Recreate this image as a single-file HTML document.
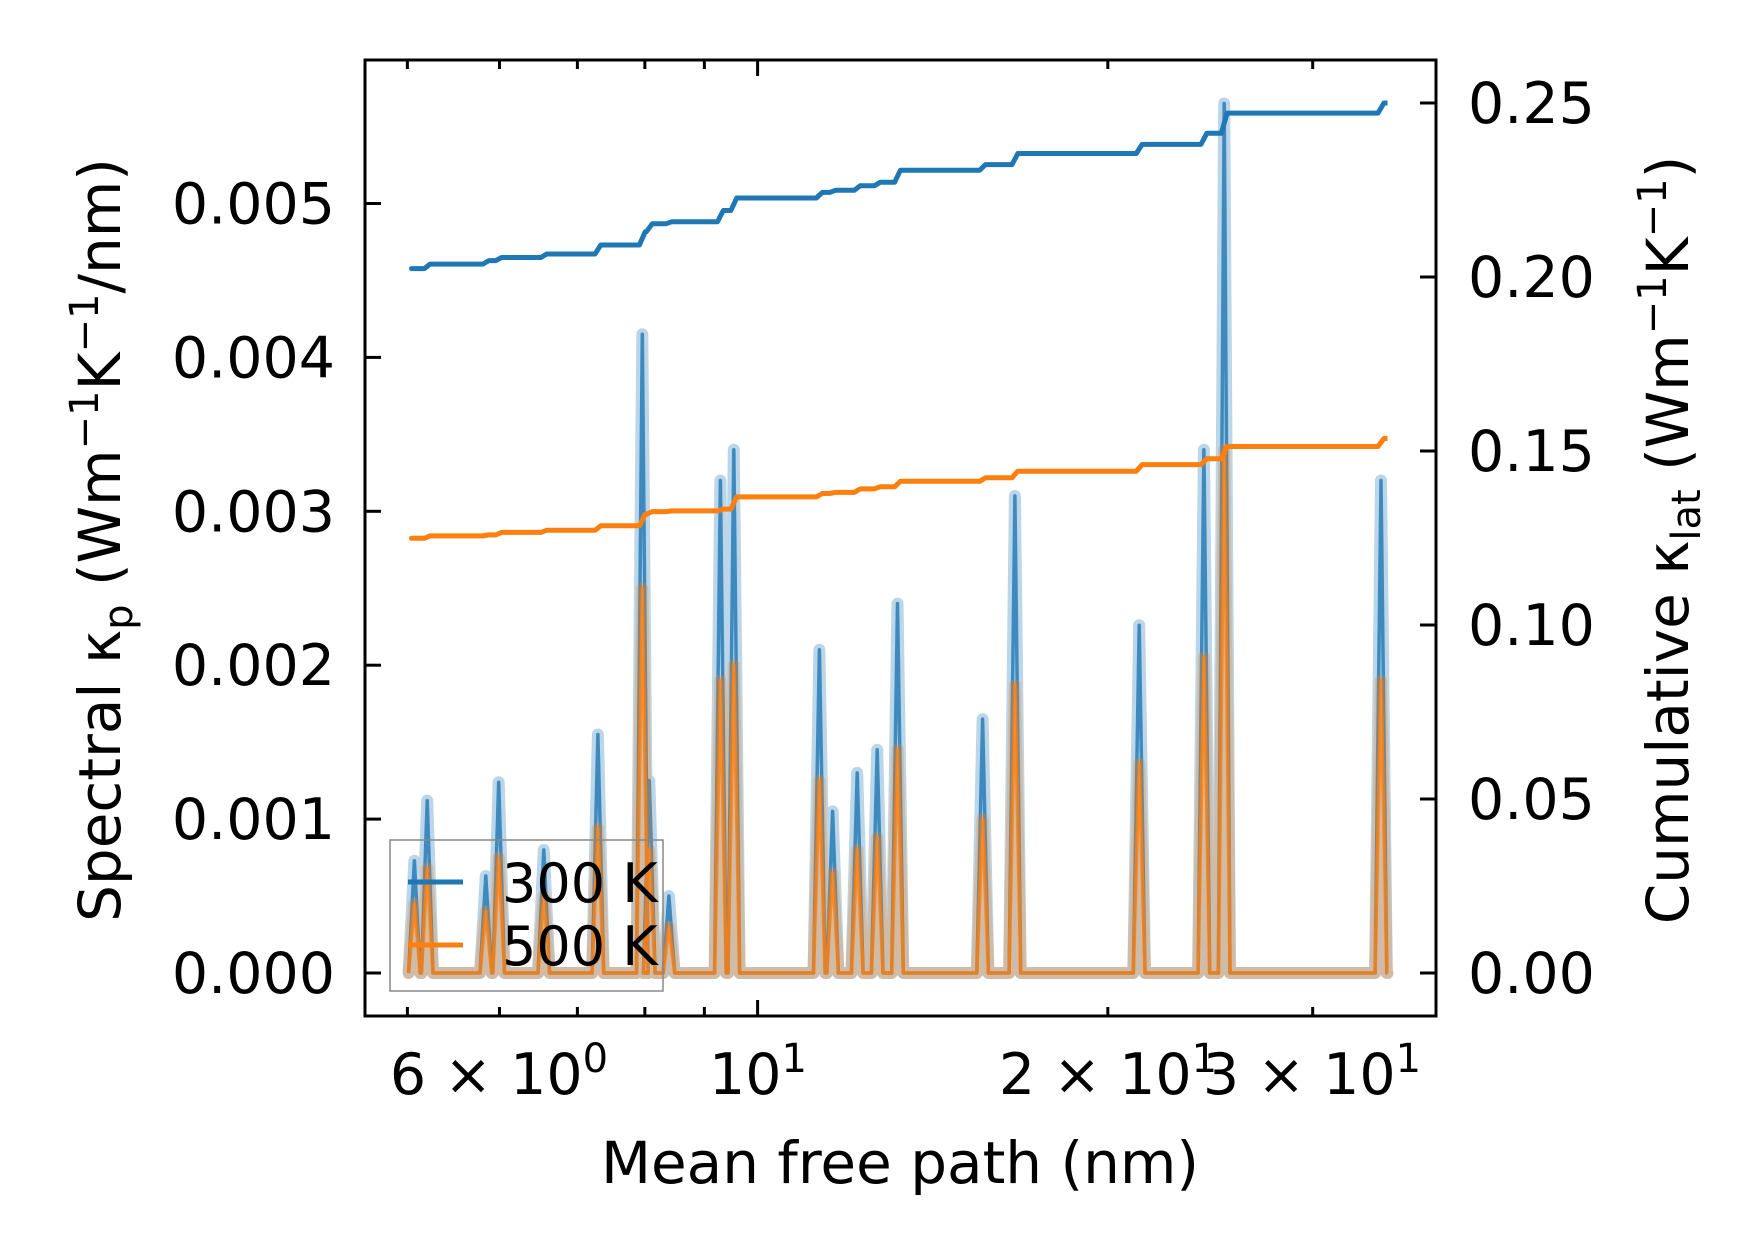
<!DOCTYPE html>
<html><head><meta charset="utf-8"><style>
html,body{margin:0;padding:0;background:#fff;}
svg{display:block;font-family:"DejaVu Sans","Liberation Sans",sans-serif;}
</style></head><body>
<svg id="chart" width="1753" height="1253" viewBox="0 0 1753 1253" xmlns="http://www.w3.org/2000/svg">
<g id="marks"></g>
<g id="axes"></g>
</svg>
<script>
const spikeMfp = [5.07,5.20,5.84,5.99,6.55,7.29,7.96,8.07,8.39,9.29,9.54,11.30,11.60,12.18,12.67,13.19,15.61,16.64,21.28,24.19,25.18,34.34];
const spec300 = [0.00073,0.00112,0.00063,0.00124,0.0008,0.00155,0.00415,0.00125,0.0005,0.0032,0.0034,0.0021,0.00105,0.0013,0.00145,0.0024,0.00165,0.0031,0.00226,0.0034,0.00565,0.0032];
const spec500 = [0.00045,0.00068,0.0004,0.00075,0.0005,0.00094,0.0025,0.0008,0.0003,0.0019,0.002,0.00125,0.00065,0.0008,0.00088,0.00145,0.001,0.00187,0.00136,0.00205,0.0034,0.0019];
const cum300 = [0.2024,0.2037,0.2047,0.2056,0.2066,0.2092,0.2130,0.2153,0.2159,0.2191,0.2227,0.2243,0.2249,0.2262,0.2272,0.2307,0.2323,0.2355,0.2381,0.2413,0.2471,0.2500];
const cum500 = [0.1249,0.1256,0.1259,0.1266,0.1272,0.1285,0.1318,0.1326,0.1328,0.1333,0.1368,0.1378,0.1381,0.1391,0.1397,0.1413,0.1423,0.1442,0.1461,0.1478,0.1513,0.1536];
const mfpEnd = 34.79;
const leftTicks = [0,0.001,0.002,0.003,0.004,0.005];
const leftTickLabels = ["0.000","0.001","0.002","0.003","0.004","0.005"];
const rightTicks = [0,0.05,0.10,0.15,0.20,0.25];
const rightTickLabels = ["0.00","0.05","0.10","0.15","0.20","0.25"];
const xMinor = [5,6,7,8,9,20,30];
const xMajor = [10];

const L=365,R=1436,T=60,B=1016;
const NS="http://www.w3.org/2000/svg";
function sx(v){return 757.6+1163.4*Math.log10(v/10);}
function syL(v){return 973-v*153.9e3;}
function syR(v){return 973-v*3480;}
function mk(tag,attrs,parent){const e=document.createElementNS(NS,tag);for(const k in attrs)e.setAttribute(k,attrs[k]);parent.appendChild(e);return e;}
const marks=document.getElementById('marks');
const axes=document.getElementById('axes');
const BLUE="#1f77b4",ORANGE="#ff7f0e";
const hw=0.005;

function specPts(vals){
  const pts=[];
  spikeMfp.forEach((m,i)=>{
    const lo=m*Math.pow(10,-hw),hi=m*Math.pow(10,hw);
    pts.push([sx(lo),syL(0)],[sx(m),syL(vals[i])],[sx(hi),syL(0)]);
  });
  pts.push([sx(mfpEnd),syL(0)]);
  return pts.map(p=>p[0].toFixed(1)+','+p[1].toFixed(1)).join(' ');
}
function cumPts(vals){
  const pts=[[sx(spikeMfp[0]),syR(vals[0])]];
  spikeMfp.forEach((m,i)=>{
    const prev=i?vals[i-1]:vals[0];
    pts.push([sx(m*Math.pow(10,-hw*0.5)),syR(prev)],[sx(m*Math.pow(10,hw*0.5)),syR(vals[i])]);
  });
  pts.push([sx(mfpEnd),syR(vals[vals.length-1])]);
  return pts.map(p=>p[0].toFixed(1)+','+p[1].toFixed(1)).join(' ');
}
[[spec300,BLUE,'spectral-300k'],[spec500,ORANGE,'spectral-500k']].forEach(([v,c,n])=>{
  const p=specPts(v);
  const halo=mk('polyline',{points:p,fill:'none',stroke:c,'stroke-width':12,'stroke-opacity':0.3,'stroke-linejoin':'round','stroke-linecap':'round'},marks);
  
  
  const ln=mk('polyline',{points:p,fill:'none',stroke:c,'stroke-width':3.5,'stroke-opacity':0.8,'stroke-linejoin':'round'},marks);
  
  
});
[[cum300,BLUE,'cumulative-300k'],[cum500,ORANGE,'cumulative-500k']].forEach(([v,c,n])=>{
  const ln=mk('polyline',{points:cumPts(v),fill:'none',stroke:c,'stroke-width':5,'stroke-linejoin':'round'},marks);
  
  
});

const fr=mk('rect',{x:L,y:T,width:R-L,height:B-T,fill:'none',stroke:'#000','stroke-width':3},axes);



leftTicks.forEach((v,i)=>{
  const y=syL(v);
  mk('line',{x1:L,x2:L+16,y1:y,y2:y,stroke:'#000','stroke-width':3},axes);
  const t=mk('text',{x:L-30,y:y+20,'font-size':57,'text-anchor':'end'},axes);
  t.textContent=leftTickLabels[i];
  
  
});
rightTicks.forEach((v,i)=>{
  const y=syR(v);
  mk('line',{x1:R-16,x2:R,y1:y,y2:y,stroke:'#000','stroke-width':3},axes);
  const t=mk('text',{x:R+32,y:y+20,'font-size':57,'text-anchor':'start'},axes);
  t.textContent=rightTickLabels[i];
  
  
});
xMinor.forEach(v=>{const x=sx(v);
  mk('line',{x1:x,x2:x,y1:B,y2:B-9,stroke:'#000','stroke-width':3},axes);
  mk('line',{x1:x,x2:x,y1:T,y2:T+9,stroke:'#000','stroke-width':3},axes);});
xMajor.forEach(v=>{const x=sx(v);
  mk('line',{x1:x,x2:x,y1:B,y2:B-16,stroke:'#000','stroke-width':3},axes);
  mk('line',{x1:x,x2:x,y1:T,y2:T+16,stroke:'#000','stroke-width':3},axes);});
</script>
<svg style="position:absolute;left:0;top:0" width="1753" height="1253" xmlns="http://www.w3.org/2000/svg" font-family="DejaVu Sans, Liberation Sans, sans-serif">
<g font-size="57" text-anchor="middle">
<text x="499" y="1094">6 × 10<tspan font-size="40" dy="-22">0</tspan></text>
<text x="758" y="1094">10<tspan font-size="40" dy="-22">1</tspan></text>
<text x="1108" y="1094">2 × 10<tspan font-size="40" dy="-22">1</tspan></text>
<text x="1312" y="1094">3 × 10<tspan font-size="40" dy="-22">1</tspan></text>
</g>
<text x="900" y="1183" font-size="58" text-anchor="middle">Mean free path (nm)</text>
<text transform="translate(120,540) rotate(-90)" font-size="58" text-anchor="middle">Spectral κ<tspan font-size="40" dy="12">p</tspan><tspan dy="-12"> (Wm</tspan><tspan font-size="40" dy="-22">−1</tspan><tspan dy="22">K</tspan><tspan font-size="40" dy="-22">−1</tspan><tspan dy="22">/nm)</tspan></text>
<text transform="translate(1688,540) rotate(-90)" font-size="58" text-anchor="middle">Cumulative κ<tspan font-size="40" dy="12">lat</tspan><tspan dy="-12"> (Wm</tspan><tspan font-size="40" dy="-22">−1</tspan><tspan dy="22">K</tspan><tspan font-size="40" dy="-22">−1</tspan><tspan dy="22">)</tspan></text>
<g>
<rect x="390" y="840" width="273" height="151" fill="none" stroke="#888" stroke-width="1.5"/>
<g>
<line x1="408" x2="463" y1="882" y2="882" stroke="#1f77b4" stroke-width="5"/>
<text x="502" y="902" font-size="54">300 K</text></g>
<g>
<line x1="408" x2="463" y1="945" y2="945" stroke="#ff7f0e" stroke-width="5"/>
<text x="502" y="965" font-size="54">500 K</text></g>
</g>
</svg>
</body></html>
